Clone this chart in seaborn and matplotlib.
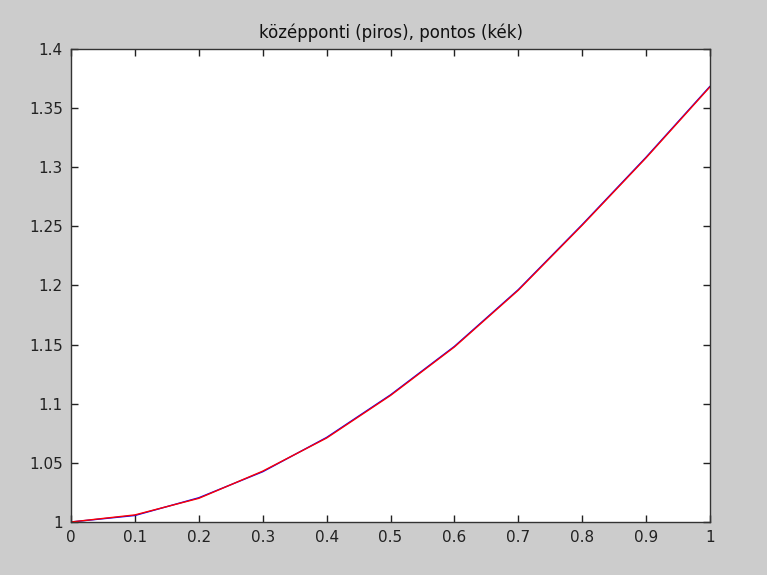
import numpy as np
import pandas as pd
import matplotlib
matplotlib.use('Agg')
import matplotlib.pyplot as plt
import seaborn as sns

# midpoint method (red) vs exact solution (blue), step 0.1
x_vals = [0.0, 0.1, 0.2, 0.3, 0.4, 0.5, 0.6, 0.7, 0.8, 0.9, 1.0]
y_midpoint = [1.0, 1.006, 1.020, 1.043, 1.071, 1.107, 1.148, 1.196, 1.251, 1.308, 1.368]
y_exact = [1.0, 1.0055, 1.0205, 1.0425, 1.0715, 1.1075, 1.1485, 1.1965, 1.2515, 1.3085, 1.3685]
x_ticks = [0, 0.1, 0.2, 0.3, 0.4, 0.5, 0.6, 0.7, 0.8, 0.9, 1]
y_ticks = [1, 1.05, 1.1, 1.15, 1.2, 1.25, 1.3, 1.35, 1.4]
title = "középponti (piros), pontos (kék)"

sns.set_style("ticks")
plt.rcParams['font.family'] = ['DejaVu Sans']

df = pd.DataFrame({'x': x_vals, 'mid': y_midpoint, 'exact': y_exact})

fig = plt.figure(figsize=(7.67, 5.75), dpi=100, facecolor='#cccccc')
ax = fig.add_axes([0.0926, 0.0922, 0.8331, 0.8226])
ax.set_facecolor('white')

sns.lineplot(data=df, x='x', y='exact', color='blue', linewidth=1.0, ax=ax)
sns.lineplot(data=df, x='x', y='mid', color='red', linewidth=1.0, ax=ax)

ax.set_xlim(0, 1)
ax.set_ylim(1, 1.4)
ax.set_xticks(x_ticks)
ax.set_xticklabels([f"{t:g}" for t in x_ticks])
ax.set_yticks(y_ticks)
ax.set_yticklabels([f"{t:g}" for t in y_ticks])
ax.set_xlabel('')
ax.set_ylabel('')
ax.tick_params(direction='in', top=True, right=True, length=5, width=1,
               labelsize=11, colors='#222222', pad=6)
for s in ax.spines.values():
    s.set_visible(True)
    s.set_color('#333333')
    s.set_linewidth(1.0)
ax.set_title(title, fontsize=12, pad=8, color='#111111')

fig.savefig('out.png', dpi=100, facecolor=fig.get_facecolor())
